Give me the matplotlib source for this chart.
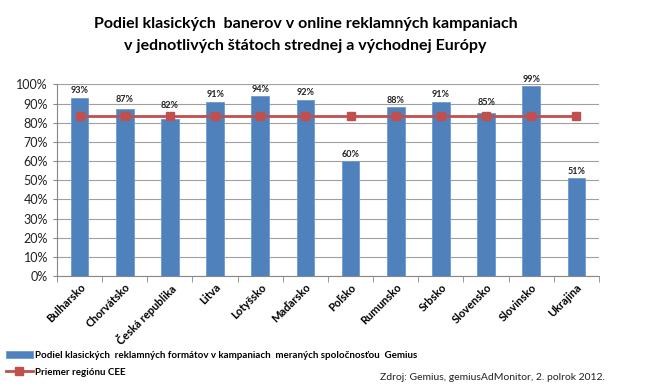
import matplotlib
matplotlib.use("Agg")
import matplotlib.pyplot as plt
import numpy as np
from matplotlib.ticker import PercentFormatter, FixedLocator

countries = ["Bulharsko", "Chorvátsko", "Česká republika", "Litva", "Lotyšsko", "Maďarsko",
             "Poľsko", "Rumunsko", "Srbsko", "Slovensko", "Slovinsko", "Ukrajina"]
share = [0.93, 0.87, 0.82, 0.91, 0.94, 0.92, 0.60, 0.88, 0.91, 0.85, 0.99, 0.51]
cee_avg = [0.835] * 12
labels = ["93%", "87%", "82%", "91%", "94%", "92%", "60%", "88%", "91%", "85%", "99%", "51%"]

plt.rcParams['font.family'] = ['Lato', 'DejaVu Sans']

fig = plt.figure(figsize=(6.5, 3.87), dpi=100)
ax = fig.add_axes([0.0877, 0.2868, 0.9215 - 0.0877, 0.782 - 0.2868])

x = np.arange(len(countries))
hb = ax.bar(x, share, width=0.39, color="#4F81BD", edgecolor="#6F9BD0", linewidth=0.6, zorder=3)
hl, = ax.plot(x, cee_avg, color="#C0504D", linewidth=2, marker="s", markersize=6, zorder=4)
for xi, v, a, t in zip(x, share, cee_avg, labels):
    base = max(v, a) + 0.03 if abs(v - a) < 0.04 else v + 0.012
    ax.text(xi, base, t, ha="center", va="bottom", fontsize=6.5, fontweight="bold", color="#222222")

ax.set_xlim(-0.5, len(countries) - 0.5)
ax.set_ylim(0, 1.0)
ax.set_yticks(np.arange(0, 1.01, 0.1))
ax.yaxis.set_major_formatter(PercentFormatter(1.0, decimals=0))
ax.tick_params(axis="y", labelsize=9, length=3, color="#888888", colors="#222222")
ax.grid(axis="y", color="#A0A0A0", linewidth=0.8, zorder=0)
ax.set_xticks(x)
ax.set_xticklabels(countries, rotation=45, ha="right", rotation_mode="anchor",
                   fontsize=8, fontweight="bold")
ax.tick_params(axis="x", length=0, pad=4)
ax.xaxis.set_minor_locator(FixedLocator(np.arange(-0.5, len(countries), 1.0)))
ax.tick_params(axis="x", which="minor", length=4, color="#888888")
for s in ["top", "right"]:
    ax.spines[s].set_visible(False)
ax.spines["left"].set_color("#888888")
ax.spines["bottom"].set_color("#888888")

fig.text(0.47, 0.91, "Podiel klasických  banerov v online reklamných kampaniach\nv jednotlivých štátoch strednej a východnej Európy",
         ha="center", va="center", fontsize=11.5, fontweight="bold", linespacing=1.75)

fig.legend([hb, hl],
           ["Podiel klasických  reklamných formátov v kampaniach  meraných spoločnosťou  Gemius",
            "Priemer regiónu CEE"],
           loc="lower left", bbox_to_anchor=(0.0, 0.012), frameon=False,
           handlelength=2.8, handletextpad=0.2, labelspacing=0.8, borderaxespad=0.2,
           prop={"weight": "bold", "size": 7})

fig.text(0.93, 0.012, "Zdroj: Gemius, gemiusAdMonitor, 2. polrok 2012.", ha="right", va="bottom", fontsize=7.5,
         color="#222222")

fig.savefig("out.png", dpi=100)
